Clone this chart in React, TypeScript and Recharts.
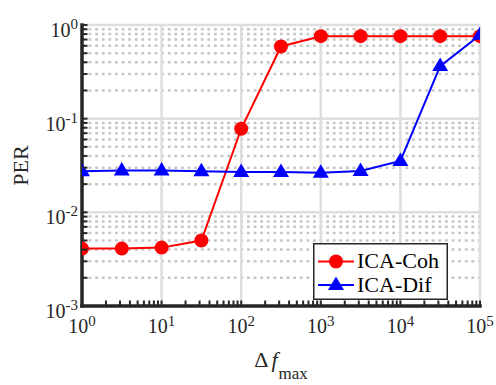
import React from 'react';
import {
  LineChart,
  Line,
  XAxis,
  YAxis,
  CartesianGrid,
  Legend,
} from 'recharts';

// PER against maximum frequency offset, both axes logarithmic
const FREQ = [1, 3.16, 10, 31.6, 100, 316, 1000, 3160, 10000, 31600, 100000];
const PER_COH = [0.0041, 0.0041, 0.0042, 0.005, 0.078, 0.59, 0.76, 0.76, 0.76, 0.76, 0.76];
const PER_DIF = [0.0275, 0.028, 0.028, 0.0275, 0.027, 0.027, 0.0265, 0.0277, 0.0354, 0.364, 0.78];

const X_MAJOR = [1, 10, 100, 1000, 10000, 100000];
const Y_MAJOR = [0.001, 0.01, 0.1, 1];
const MINOR_STEPS = [2, 3, 4, 5, 6, 7, 8, 9];

const withMinor = (major: number[]) =>
  major.flatMap((m, i) =>
    i === major.length - 1 ? [m] : [m, ...MINOR_STEPS.map((k) => m * k)]
  );

const X_TICKS = withMinor(X_MAJOR);
const Y_TICKS = withMinor(Y_MAJOR);
const Y_MINOR = Y_TICKS.filter((v) => !Y_MAJOR.includes(v));

const data = FREQ.map((f, i) => ({ f, coh: PER_COH[i], dif: PER_DIF[i] }));

const FONT = '"Liberation Serif", "Times New Roman", serif';
const AXIS = '#262626';
const RED = '#ff0000';
const BLUE = '#0000ff';
const MARK = 5.5;

const isMajor = (v: number) => {
  const l = Math.log10(v);
  return Math.abs(l - Math.round(l)) < 1e-9;
};
const expOf = (v: number) => Math.round(Math.log10(v));

const toPx = (axis: any, v: number) => {
  const s = axis?.scale;
  if (typeof s === 'function') return s(v);
  if (s && typeof s.map === 'function') return s.map(v);
  return NaN;
};

const BottomTick = ({ x, y, payload }: any) => (
  <g>
    <line x1={x} y1={y} x2={x} y2={y - MARK} stroke={AXIS} strokeWidth={2} />
    {isMajor(payload.value) && (
      <text x={x} y={y + 27} textAnchor="middle" fontFamily={FONT} fontSize={20} fill={AXIS}>
        10
        <tspan dy={-7} fontSize={15}>{expOf(payload.value)}</tspan>
      </text>
    )}
  </g>
);

const TopTick = ({ x, y }: any) => (
  <line x1={x} y1={y} x2={x} y2={y + MARK} stroke={AXIS} strokeWidth={2} />
);

const LeftTick = ({ x, y, payload }: any) => (
  <g>
    <line x1={x} y1={y} x2={x + MARK} y2={y} stroke={AXIS} strokeWidth={2} />
    {isMajor(payload.value) && (
      <text x={x - 4} y={y + 12} textAnchor="end" fontFamily={FONT} fontSize={20} fill={AXIS}>
        10
        <tspan dy={-8} fontSize={15}>{expOf(payload.value)}</tspan>
      </text>
    )}
  </g>
);

const RightTick = ({ x, y }: any) => (
  <line x1={x} y1={y} x2={x - MARK} y2={y} stroke={AXIS} strokeWidth={2} />
);

const Circle = ({ cx, cy }: { cx: number; cy: number }) => (
  <circle cx={cx} cy={cy} r={7} fill={RED} />
);

const Triangle = ({ cx, cy }: { cx: number; cy: number }) => (
  <polygon
    points={`${cx},${cy - 8.5} ${cx - 8},${cy + 5} ${cx + 8},${cy + 5}`}
    fill={BLUE}
  />
);

const renderXTitle = ({ viewBox }: any) => {
  const cx = viewBox.x + viewBox.width / 2;
  const by = viewBox.y + 61;
  return (
    <text x={cx} y={by} textAnchor="middle" fontFamily={FONT} fontSize={22} fill={AXIS}>
      Δ
      <tspan dx={3} fontStyle="italic">f</tspan>
      <tspan dx={1} dy={12} fontSize={17}>max</tspan>
    </text>
  );
};

const renderYTitle = ({ viewBox }: any) => {
  const x = viewBox.x + 28;
  const y = viewBox.y + viewBox.height / 2;
  return (
    <text
      x={x}
      y={y}
      transform={`rotate(-90 ${x} ${y})`}
      textAnchor="middle"
      fontFamily={FONT}
      fontSize={22}
      fill={AXIS}
    >
      PER
    </text>
  );
};

const renderLegend = ({ payload }: any) => (
  <svg width={135} height={57} style={{ display: 'block' }}>
    <rect x={0.75} y={0.75} width={133.5} height={55.5} fill="#fff" stroke={AXIS} strokeWidth={1.5} />
    {(payload || []).map((entry: any, i: number) => {
      const cy = 18.5 + i * 23.4;
      return (
        <g key={entry.value}>
          <line x1={5} x2={41} y1={cy} y2={cy} stroke={entry.color} strokeWidth={2} />
          {entry.dataKey === 'coh' ? <Circle cx={23} cy={cy} /> : <Triangle cx={23} cy={cy} />}
          <text x={44} y={cy + 6.7} fontFamily={FONT} fontSize={22} fill="#000">
            {entry.value}
          </text>
        </g>
      );
    })}
  </svg>
);

const axisLine = { stroke: AXIS, strokeWidth: 3.5, strokeLinecap: 'square' as const };

export default function App() {
  return (
    <div style={{ width: 496, height: 385, background: '#fff' }}>
      <style>{'body{margin:0}'}</style>
      <LineChart width={496} height={385} data={data} margin={{ top: 25, right: 16, bottom: 0, left: 0 }}>
        <CartesianGrid
          xAxisId="x"
          yAxisId="y"
          vertical={false}
          horizontalCoordinatesGenerator={({ yAxis }: any) => Y_MINOR.map((v) => toPx(yAxis, v))}
          stroke="#c6c6c6"
          strokeWidth={2.5}
          strokeDasharray="2.8 3.8"
        />
        <CartesianGrid
          xAxisId="x"
          yAxisId="y"
          horizontalCoordinatesGenerator={({ yAxis }: any) => Y_MAJOR.map((v) => toPx(yAxis, v))}
          verticalCoordinatesGenerator={({ xAxis }: any) => X_MAJOR.map((v) => toPx(xAxis, v))}
          stroke="#dedede"
          strokeWidth={2.5}
        />
        <XAxis
          xAxisId="top"
          orientation="top"
          dataKey="f"
          type="number"
          scale="log"
          domain={[1, 100000]}
          allowDataOverflow
          ticks={X_TICKS}
          interval={0}
          height={0}
          tickSize={0}
          tickMargin={0}
          tickLine={false}
          tick={<TopTick />}
          axisLine={axisLine}
        />
        <XAxis
          xAxisId="x"
          dataKey="f"
          type="number"
          scale="log"
          domain={[1, 100000]}
          allowDataOverflow
          ticks={X_TICKS}
          interval={0}
          height={79}
          tickSize={0}
          tickMargin={0}
          tickLine={false}
          tick={<BottomTick />}
          axisLine={axisLine}
          label={{ content: renderXTitle }}
        />
        <YAxis
          yAxisId="y"
          type="number"
          scale="log"
          domain={[0.001, 1]}
          allowDataOverflow
          ticks={Y_TICKS}
          interval={0}
          width={82}
          tickSize={0}
          tickMargin={0}
          tickLine={false}
          tick={<LeftTick />}
          axisLine={axisLine}
          label={{ content: renderYTitle }}
        />
        <YAxis
          yAxisId="right"
          orientation="right"
          type="number"
          scale="log"
          domain={[0.001, 1]}
          allowDataOverflow
          ticks={Y_TICKS}
          interval={0}
          width={0}
          tickSize={0}
          tickMargin={0}
          tickLine={false}
          tick={<RightTick />}
          axisLine={axisLine}
        />
        <Line
          xAxisId="x"
          yAxisId="y"
          dataKey="coh"
          name="ICA-Coh"
          stroke={RED}
          strokeWidth={2}
          dot={(p: any) => <Circle key={`c${p.index}`} cx={p.cx} cy={p.cy} />}
          activeDot={false}
          isAnimationActive={false}
        />
        <Line
          xAxisId="x"
          yAxisId="y"
          dataKey="dif"
          name="ICA-Dif"
          stroke={BLUE}
          strokeWidth={2}
          dot={(p: any) => <Triangle key={`t${p.index}`} cx={p.cx} cy={p.cy} />}
          activeDot={false}
          isAnimationActive={false}
        />
        <Legend
          layout="horizontal"
          verticalAlign="middle"
          align="center"
          content={renderLegend}
          wrapperStyle={{ position: 'absolute', left: 313, top: 243, width: 135, height: 57 }}
        />
      </LineChart>
    </div>
  );
}
